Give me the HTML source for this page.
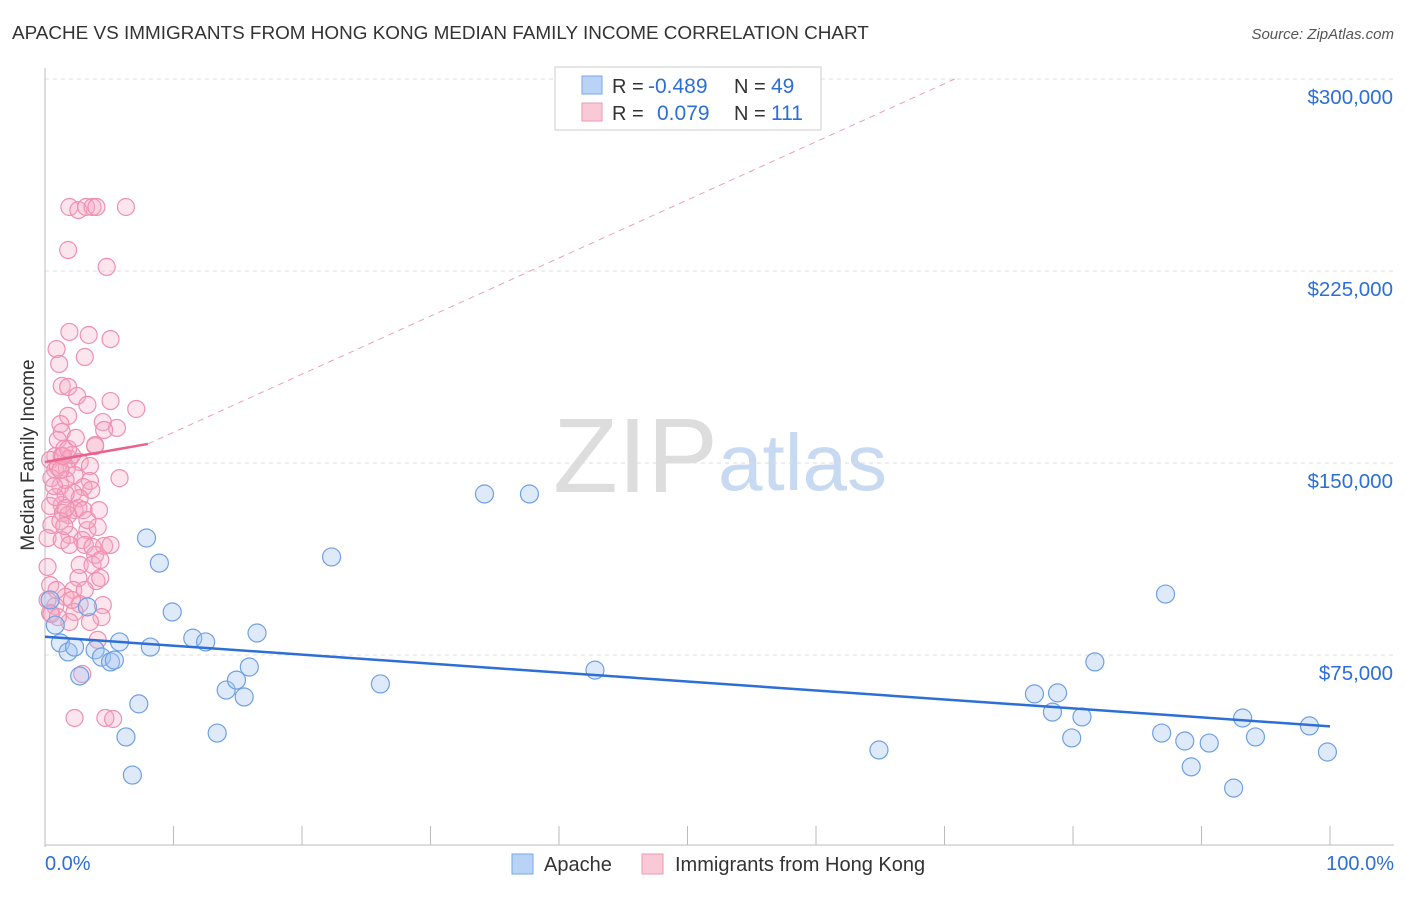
<!DOCTYPE html>
<html><head><meta charset="utf-8"><style>
body{margin:0;background:#fff;font-family:"Liberation Sans",sans-serif;}
svg text{font-family:"Liberation Sans",sans-serif;}
</style></head><body>
<svg id="chart" width="1406" height="892">
<text x="12" y="39" font-size="18.9" fill="#333">APACHE VS IMMIGRANTS FROM HONG KONG MEDIAN FAMILY INCOME CORRELATION CHART</text>
<text x="1394" y="39" font-size="15" fill="#555" font-style="italic" text-anchor="end">Source: ZipAtlas.com</text>
<text x="34" y="455" font-size="19" fill="#333" text-anchor="middle" transform="rotate(-90 34 455)">Median Family Income</text>
<text x="553" y="492" font-size="106" fill="#ddd" font-family="Liberation Serif">ZIP</text>
<text x="718" y="490" font-size="80" fill="#c8daf2">atlas</text>
<g id="grid"></g><g id="pts"></g><g id="trends"></g>
<g>
<rect x="555" y="67" width="266" height="63" fill="#fff" stroke="#ccc"/>
<rect x="582" y="76" width="20" height="18" fill="#b8d3f5" stroke="#7aa8e8"/>
<rect x="582" y="103" width="20" height="18" fill="#f9c9d7" stroke="#ee98b2"/>
<text x="612" y="93" font-size="20" fill="#333">R =</text>
<text x="648" y="93" font-size="21" fill="#2d6fd6">-0.489</text>
<text x="734" y="93" font-size="20" fill="#333">N =</text>
<text x="771" y="93" font-size="21" fill="#2d6fd6">49</text>
<text x="612" y="120" font-size="20" fill="#333">R =</text>
<text x="657" y="120" font-size="21" fill="#2d6fd6">0.079</text>
<text x="734" y="120" font-size="20" fill="#333">N =</text>
<text x="771" y="120" font-size="21" fill="#2d6fd6">111</text>
</g>
<text x="45" y="870" font-size="20" fill="#2d6fd6">0.0%</text>
<text x="1394" y="870" font-size="20" fill="#2d6fd6" text-anchor="end">100.0%</text>
<g>
<rect x="512" y="854" width="21" height="20" fill="#b8d3f5" stroke="#7aa8e8"/>
<text x="544" y="871" font-size="20" fill="#333">Apache</text>
<rect x="642" y="854" width="21" height="20" fill="#f9c9d7" stroke="#ee98b2"/>
<text x="675" y="871" font-size="20" fill="#333">Immigrants from Hong Kong</text>
</g>
</svg>
<script>
const yTicks=[75000,150000,225000,300000];
const yTickLabels=["$75,000","$150,000","$225,000","$300,000"];
const xTicks=[0,10,20,30,40,50,60,70,80,90,100];
const apacheX=[0.4,0.8,1.2,1.8,2.3,2.7,3.3,3.9,4.4,5.1,5.4,5.8,6.3,6.8,7.3,7.9,8.2,8.9,9.9,11.5,12.5,13.4,14.1,14.9,15.5,15.9,16.5,22.3,26.1,34.2,37.7,42.8,64.9,77.0,78.4,78.8,79.9,80.7,81.7,86.9,87.2,88.7,89.2,90.6,92.5,93.2,94.2,98.4,99.8];
const apacheY=[96.5,86.7,79.7,76.2,78.1,66.8,93.8,77.0,74.2,72.3,73.0,80.1,43.0,28.1,55.9,120.7,78.1,110.9,91.8,81.6,80.1,44.5,61.3,65.2,58.6,70.3,83.6,113.3,63.7,137.9,137.9,69.1,37.9,59.8,52.7,60.2,42.6,50.8,72.3,44.5,98.8,41.4,31.3,40.6,23.0,50.4,43.0,47.3,37.1];
const hkX=[1.9,2.6,3.2,3.7,4.0,6.3,1.8,4.8,1.9,3.4,5.1,0.9,1.1,3.1,1.3,1.8,2.5,5.1,7.1,3.3,1.8,1.2,4.5,5.6,1.3,4.6,1.0,3.9,1.5,0.8,0.4,1.3,1.9,2.7,3.5,1.7,0.8,2.3,3.5,3.0,1.2,2.2,3.6,2.7,1.3,0.4,2.3,1.4,2.6,1.8,0.5,3.3,1.9,2.9,4.1,0.2,3.1,1.3,4.6,3.9,2.7,0.2,3.7,2.6,4.0,0.4,2.2,3.1,1.6,4.5,2.7,0.8,2.3,4.4,3.5,1.9,0.4,4.1,2.9,2.3,4.7,5.3,1.6,1.0,0.5,1.6,2.1,1.2,0.8,1.2,1.4,4.2,5.8,0.5,0.9,0.2,3.7,1.9,1.6,0.7,1.8,4.3,2.1,1.0,3.0,1.5,5.1,3.9,2.4,3.3,4.3];
const hkY=[250,248.8,250,250,250,250,233.2,226.6,201.2,200,198.4,194.5,188.7,191.4,180.1,179.7,176.2,174.2,171.1,172.7,168.4,165.2,166.0,163.7,162.1,162.9,159.0,156.6,155.5,152.7,151.2,152.7,151.6,150.4,148.8,148.0,147.3,145.3,143.0,140.6,141.0,138.3,139.5,136.3,133.6,133.2,131.6,130.5,132.4,129.7,125.8,123.8,121.9,119.9,125.0,120.7,118.0,119.9,117.6,114.1,110.2,109.4,110.2,105.1,103.9,102.3,100.4,100.4,97.7,94.5,94.9,94.1,91.8,89.8,87.9,87.9,91.4,80.9,67.6,50.4,50.4,50.0,137.9,148.4,144.1,143.4,153.1,147.3,136.7,127.3,152.7,131.6,144.1,91.0,100.4,96.5,117.2,118.0,132.4,141.0,155.5,105.1,96.5,89.8,131.6,125.4,118.0,157.0,159.8,127.7,112.1];
const NS='http://www.w3.org/2000/svg';
const X0=45,X1=1330,YB=847,YT=79;
const sx=v=>X0+(X1-X0)*v/100;
const sy=v=>YB-(YB-YT)*v/300000;
function mk(tag,attrs,parent){const e=document.createElementNS(NS,tag);for(const k in attrs)e.setAttribute(k,attrs[k]);parent.appendChild(e);return e;}
const grid=document.getElementById('grid');
mk('line',{x1:X0,y1:YT,x2:1394,y2:YT,stroke:'#ddd','stroke-dasharray':'4,4'},grid);
yTicks.forEach((t,i)=>{
 const l=mk('line',{x1:X0,y1:sy(t),x2:1394,y2:sy(t),stroke:'#ddd','stroke-dasharray':'4,4'},grid);
 
 
 const tx=mk('text',{x:1393,y:sy(t)+25,'font-size':20.5,fill:'#2d6fd6','text-anchor':'end'},grid);
 tx.textContent=yTickLabels[i];
 
 
});
const ax=mk('line',{x1:X0,y1:68,x2:X0,y2:YB,stroke:'#bbb'},grid);


const bx=mk('line',{x1:X0,y1:YB-2,x2:1394,y2:YB-2,stroke:'#bbb'},grid);


xTicks.forEach(t=>{
 const l=mk('line',{x1:sx(t),y1:826,x2:sx(t),y2:YB-2,stroke:'#bbb'},grid);
 
 
});
const pts=document.getElementById('pts');
hkX.forEach((x,i)=>{
 const c=mk('circle',{cx:sx(x),cy:sy(hkY[i]*1000),r:8.5,fill:'rgba(246,170,195,0.3)',stroke:'#ef90b0','stroke-width':1.2},pts);
 
 
});
apacheX.forEach((x,i)=>{
 const c=mk('circle',{cx:sx(x),cy:sy(apacheY[i]*1000),r:9,fill:'rgba(160,196,240,0.35)',stroke:'#6fa0e3','stroke-width':1.2},pts);
 
 
});
const tr=document.getElementById('trends');
function fit(xs,ys){const n=xs.length;let mx=0,my=0;xs.forEach((x,i)=>{mx+=x;my+=ys[i];});mx/=n;my/=n;let sxy=0,sxx=0;xs.forEach((x,i)=>{sxy+=(x-mx)*(ys[i]-my);sxx+=(x-mx)**2;});const b=sxy/sxx;return [my-b*mx,b];}
const [ba,bb]=fit(apacheX,apacheY);
const t1=mk('line',{x1:sx(0),y1:sy(ba*1000),x2:sx(100),y2:sy((ba+bb*100)*1000),stroke:'#2d6fd6','stroke-width':2.5},tr);


const hs=[150.4,0.88];
const t2=mk('line',{x1:sx(0),y1:sy(hs[0]*1000),x2:sx(8),y2:sy((hs[0]+hs[1]*8)*1000),stroke:'#e8628c','stroke-width':2.5},tr);


const t3=mk('line',{x1:sx(8),y1:sy((hs[0]+hs[1]*8)*1000),x2:sx(70.8),y2:sy(300000),stroke:'#eaa0b8','stroke-width':1,'stroke-dasharray':'6,5'},tr);


</script>
</body></html>
